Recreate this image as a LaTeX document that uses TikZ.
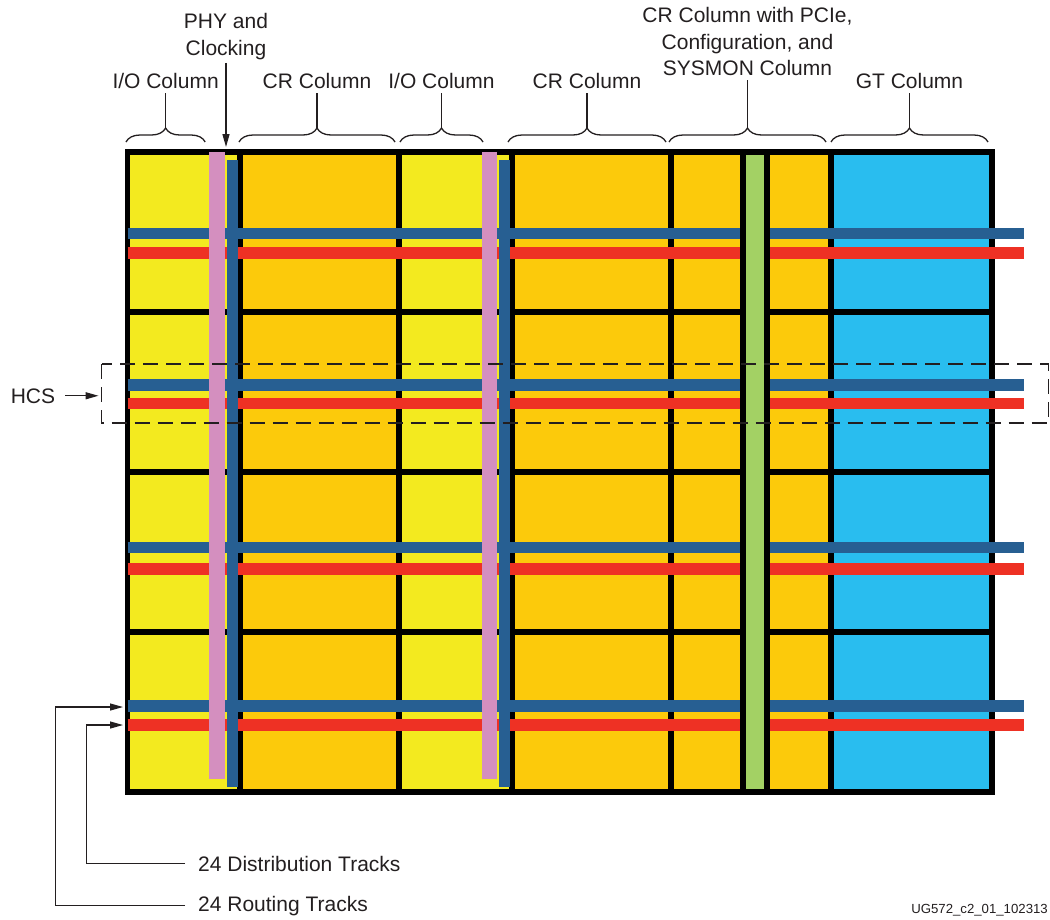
\documentclass[tikz,border=0pt]{standalone}
\usepackage{fontspec}
\setmainfont{Liberation Sans}
\usetikzlibrary{arrows.meta,decorations.pathreplacing}
\definecolor{ioY}{HTML}{F3EA1F}
\definecolor{crO}{HTML}{FCCA0B}
\definecolor{gtC}{HTML}{29BDEF}
\definecolor{grn}{HTML}{A3D164}
\definecolor{pnk}{HTML}{D48FBF}
\definecolor{trkB}{HTML}{275F92}
\definecolor{trkR}{HTML}{EE3124}
\definecolor{ink}{HTML}{231F20}
\begin{document}
\begin{tikzpicture}[x=1pt,y=-1pt,
  lbl/.style={font=\fontsize{21}{26.5}\selectfont, text=ink, inner sep=0pt, align=center},
  brc/.style={draw=ink, line width=1.3pt, decorate, decoration={brace, amplitude=14pt}},
  stem/.style={draw=ink, line width=1.3pt},
  arr/.style={draw=ink, line width=1.3pt, -{Triangle[length=13pt,width=7pt]}},
  divider/.style={line width=5.5pt, black},
  trackB/.style={line width=11.5pt, trkB},
  trackR/.style={line width=11.5pt, trkR},
  pinkbar/.style={fill=pnk},
  bluebar/.style={fill=trkB},
]
\useasboundingbox (0,0) rectangle (1050,919);

% column fills
\fill[ioY] (127.5,152) rectangle (240,792);
\fill[crO] (240,152) rectangle (399,792);
\fill[ioY] (399,152) rectangle (512,792);
\fill[crO] (512,152) rectangle (831,792);
\fill[gtC] (831,152) rectangle (992,792);

% grid
\foreach \y in {312,472,632} \draw[divider] (127.5,\y) -- (992,\y);
\foreach \x in {240,399,512,671,831} \draw[divider] (\x,152) -- (\x,792);
\draw[divider] (127.5,152) rectangle (992,792);

% horizontal tracks
\foreach \b/\r in {233.3/253, 385/403.5, 547.5/569, 706/725} {
  \draw[trackB] (127.5,\b) -- (1024,\b);
  \draw[trackR] (127.5,\r) -- (1024,\r);
}

% vertical PHY / clocking bars
\path[pinkbar] (209.3,152.3) rectangle (225.3,779);
\path[bluebar] (226.7,160) rectangle (238.3,787.3);
\path[pinkbar] (481.7,152.3) rectangle (497,779);
\path[bluebar] (498.7,160) rectangle (510,787.3);

% PCIe / configuration / SYSMON strip
\filldraw[fill=grn, draw=black, line width=5.5pt] (743,152) rectangle (767,792);

% HCS dashed box
\draw[ink, line width=1.3pt, dash pattern=on 15pt off 8pt] (101.7,364) rectangle (1048.3,423);

% top labels and braces
\node[lbl, anchor=base] (io1) at (165.6,88) {I/O Column};
\draw[brc] (126,142) -- (205.2,142);
\coordinate (io1t) at (165.6,128);
\draw[stem, shorten <=5pt] (io1.south) -- (io1t);

\node[lbl, anchor=base] (cr1) at (317,88) {CR Column};
\draw[brc] (239,142) -- (395,142);
\coordinate (cr1t) at (317,128);
\draw[stem, shorten <=5pt] (cr1.south) -- (cr1t);

\node[lbl, anchor=base] (io2) at (441.5,88) {I/O Column};
\draw[brc] (400,142) -- (483,142);
\coordinate (io2t) at (441.5,128);
\draw[stem, shorten <=5pt] (io2.south) -- (io2t);

\node[lbl, anchor=base] (cr2) at (587,88) {CR Column};
\draw[brc] (508,142) -- (666,142);
\coordinate (cr2t) at (587,128);
\draw[stem, shorten <=5pt] (cr2.south) -- (cr2t);

\node[lbl, anchor=north] (pcie) at (747.5,7.3) {CR Column with PCIe,\\Configuration, and\\SYSMON Column};
\draw[brc] (669,142) -- (826,142);
\coordinate (pciet) at (747.5,128);
\draw[stem, shorten <=4pt] (pcie.south) -- (pciet);

\node[lbl, anchor=base] (gt) at (909.5,88) {GT Column};
\draw[brc] (831,142) -- (988,142);
\coordinate (gtt) at (909.5,128);
\draw[stem, shorten <=5pt] (gt.south) -- (gtt);

\node[lbl, anchor=north] (phy) at (226,13.3) {PHY and\\Clocking};
\coordinate (phyt) at (226,147);
\draw[arr, shorten <=3pt] (phy.south) -- (phyt);

% HCS
\node[lbl, anchor=base] (hcs) at (33,403) {HCS};
\coordinate (hcsbox) at (98.5,395);
\draw[arr, shorten <=10pt] (hcs.east) -- (hcs.east -| hcsbox);

% bottom callouts
\node[lbl, anchor=base west, inner xsep=13pt, inner ysep=0pt] (dist) at (185,871) {24 Distribution Tracks};
\node[lbl, anchor=base west, inner xsep=13pt, inner ysep=0pt] (rout) at (185,911) {24 Routing Tracks};
\coordinate (distend) at (123,725);
\coordinate (routend) at (123,707);
\draw[arr] (dist.west) -- ++(-98.3,0) |- (distend);
\draw[arr] (rout.west) -- ++(-129.3,0) |- (routend);

% figure id
\node[font=\fontsize{13.2}{15}\selectfont, text=ink, inner sep=0pt, anchor=base east] (fid) at (1048,913) {UG572\_c2\_01\_102313};
\end{tikzpicture}
\end{document}
